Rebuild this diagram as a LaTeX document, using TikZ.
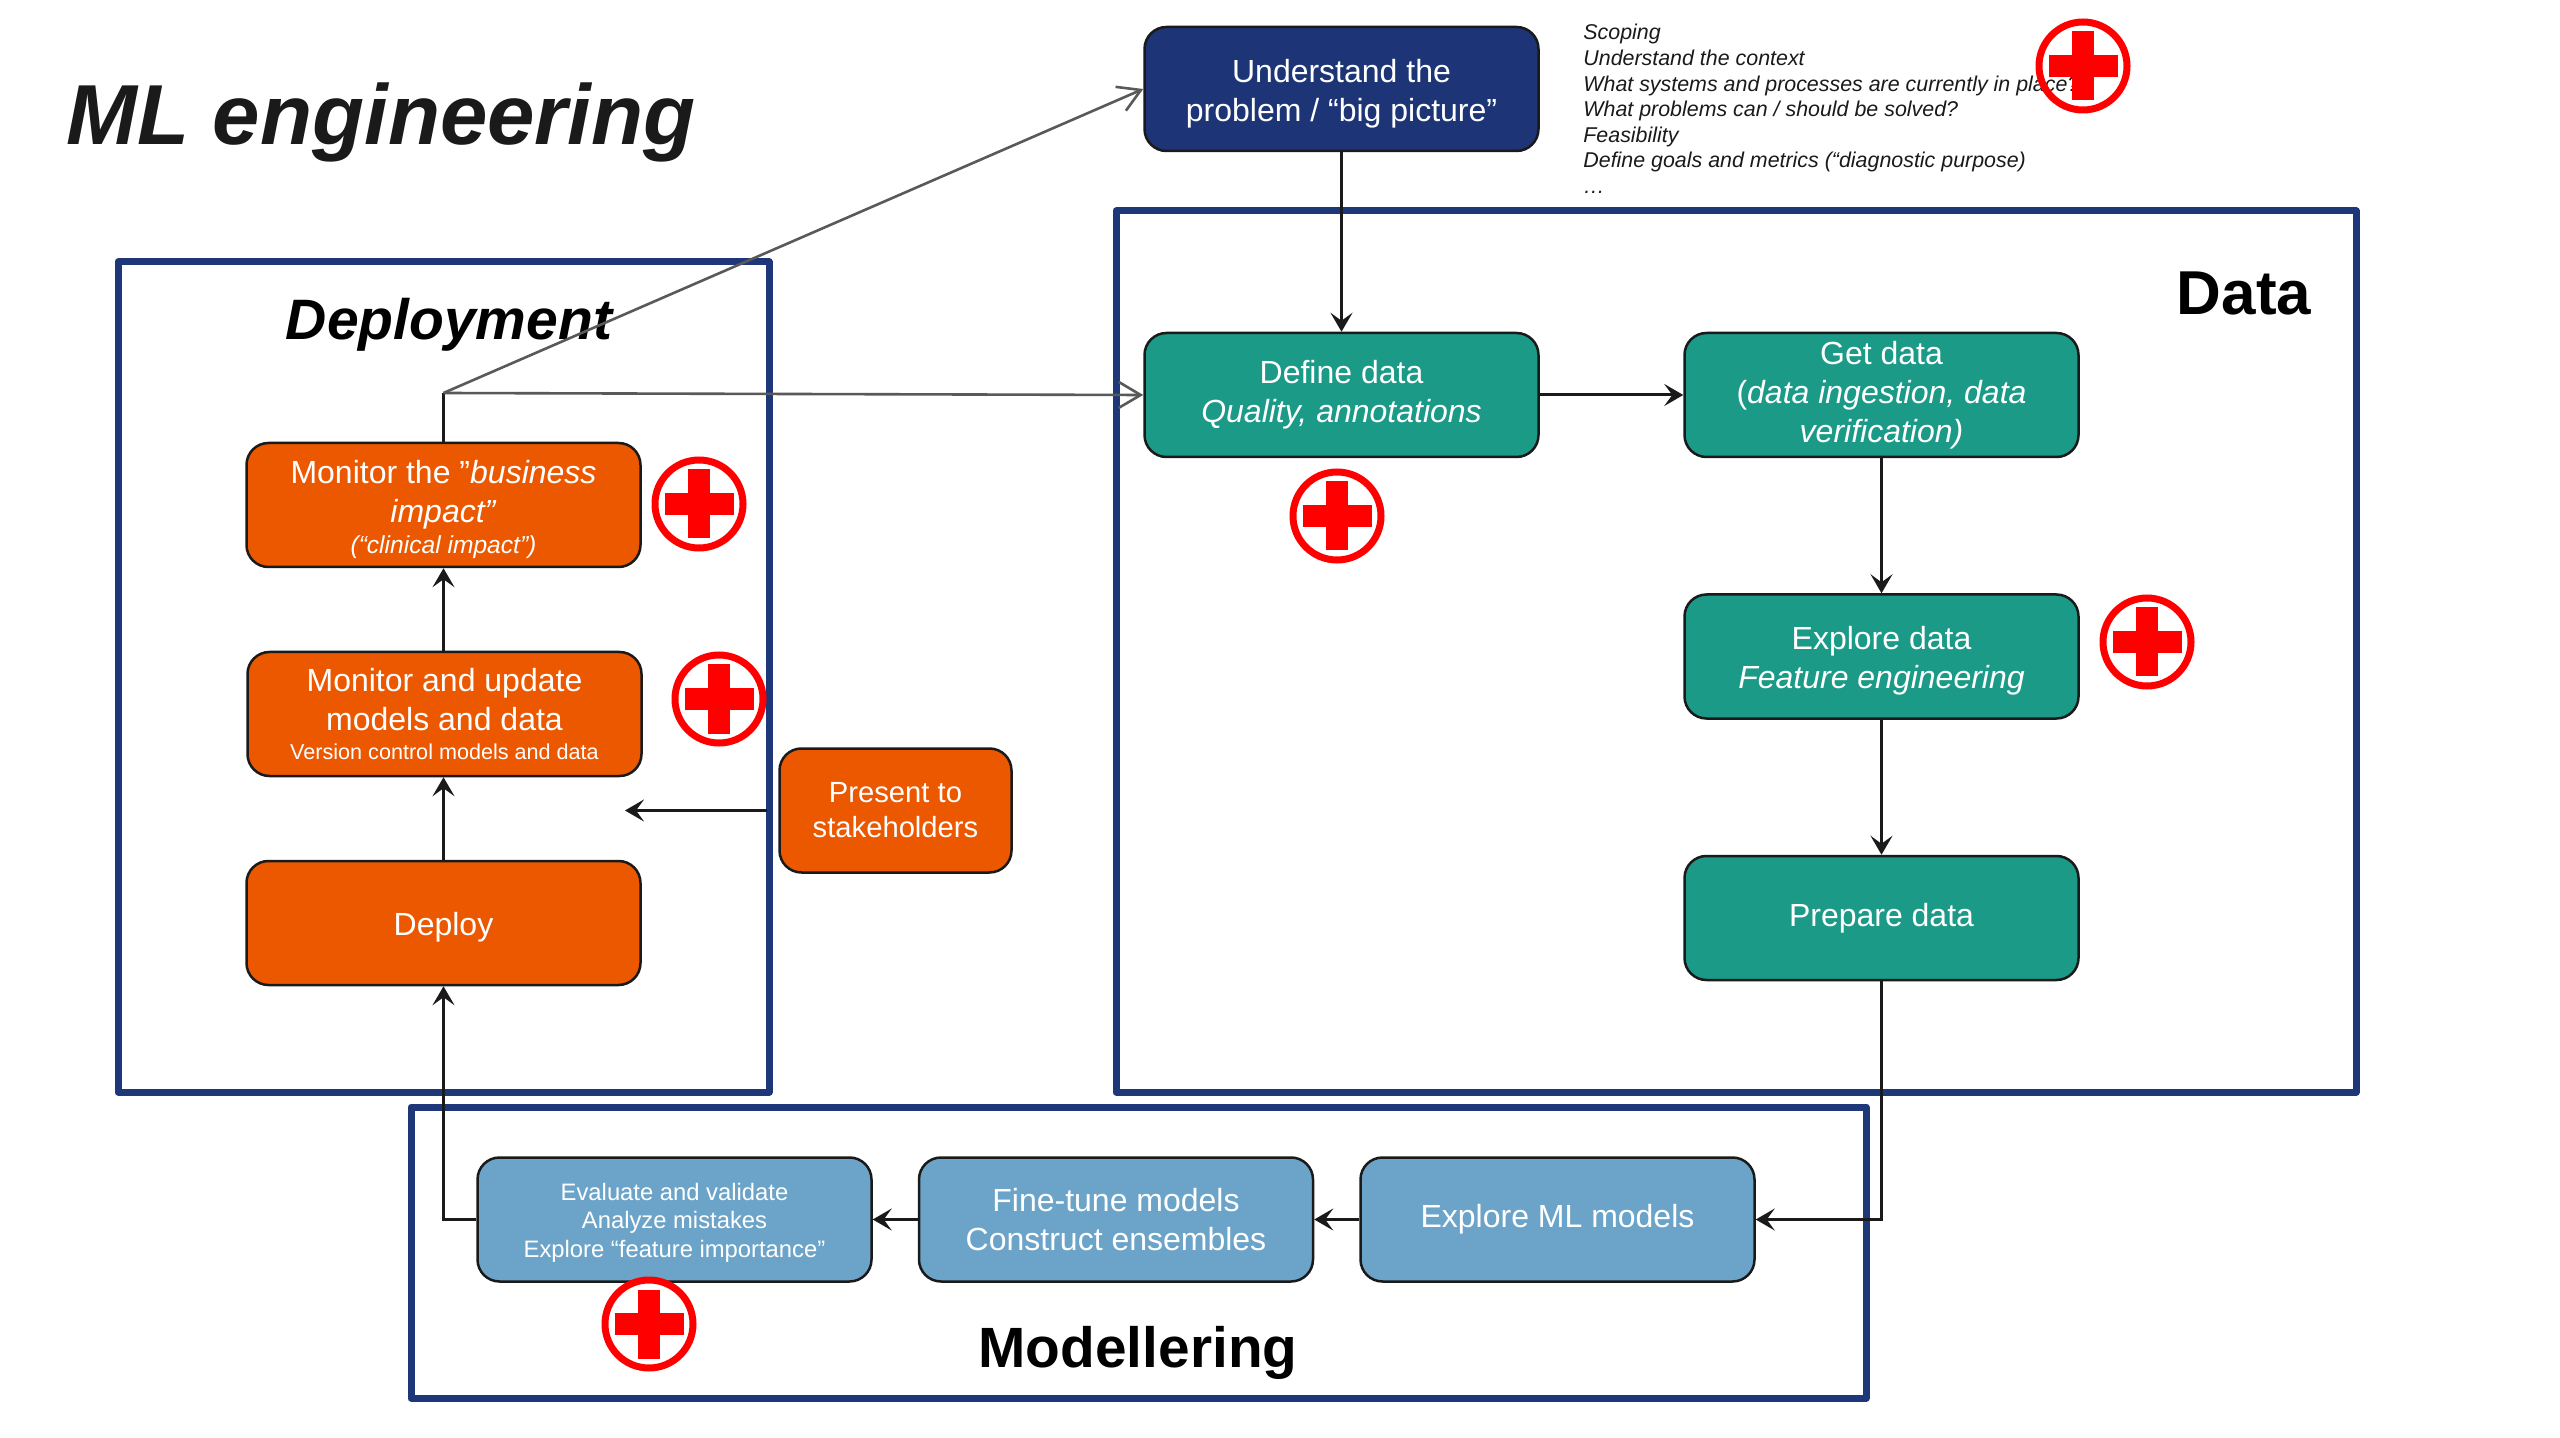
\documentclass[tikz,border=0pt]{standalone}
\usepackage{fontspec}
\setmainfont{Liberation Sans}
\usetikzlibrary{arrows.meta}
\definecolor{framenavy}{HTML}{1E3778}
\definecolor{boxnavy}{HTML}{1D3577}
\definecolor{boxteal}{HTML}{1B9A88}
\definecolor{boxorange}{HTML}{EC5800}
\definecolor{boxblue}{HTML}{6CA4C9}
\definecolor{linedark}{HTML}{1A1A1A}
\definecolor{linegrey}{HTML}{595959}
\newcommand{\bodysize}{\fontsize{16}{19.5}\selectfont}
\newcommand{\topgap}{\rule{0pt}{1em}}
\tikzset{
  stage/.style={draw=linedark, line width=1.25pt, rounded corners=11pt, text=white,
    minimum width=197pt, minimum height=62pt, inner sep=0pt, align=center, font=\bodysize},
  frame/.style={draw=framenavy, line width=3.5pt, line join=round},
  flow/.style={draw=linedark, line width=1.1pt, -{Stealth[length=9.5pt,width=11pt,inset=4pt]}},
  reuse/.style={draw=linegrey, line width=1.3pt, -{Straight Barb[length=11pt,width=13pt]}},
  heading/.style={anchor=base, inner sep=0pt, text=black}
}
\begin{document}
\begin{tikzpicture}[x=0.5pt, y=-0.5pt]
\useasboundingbox (0,0) rectangle (2560,1438);

% frames
\draw[frame] (118,262) rectangle (769,1092);
\draw[frame] (1116,211) rectangle (2356,1092);
\draw[frame] (411,1107) rectangle (1866,1398);

% headings
\node[heading, text=linedark, font={\fontsize{42.6}{50}\selectfont\bfseries\itshape}] (title) at (381,145) {ML engineering};
\node[heading, font={\fontsize{28.5}{34}\selectfont\bfseries\itshape}] (deployhead) at (449,340) {Deployment};
\node[heading, font={\fontsize{31}{36}\selectfont\bfseries}] (datahead) at (2244,315) {Data};
\node[heading, font={\fontsize{28.4}{34}\selectfont\bfseries}] (modelhead) at (1138,1367) {Modellering};

% scoping notes
\node[anchor=north west, inner sep=0pt, align=left, text=linedark, font={\fontsize{10.7}{12.8}\selectfont\itshape}] (scoping) at (1583,24)
  {Scoping\\Understand the context\\What systems and processes are currently in place?\\What problems can / should be solved?\\Feasibility\\Define goals and metrics (“diagnostic purpose)\\…};

% problem and data
\node[stage, fill=boxnavy] (problem) at (1341.5,89) {\topgap Understand the\\problem / “big picture”};
\node[stage, fill=boxteal] (define) at (1341.5,395) {Define data\\\textit{Quality, annotations}};
\node[stage, fill=boxteal] (getdata) at (1881.5,395) {Get data\\(\textit{data ingestion, data}\\\textit{verification)}};
\node[stage, fill=boxteal] (explore) at (1881.5,656.5) {\topgap Explore data\\\textit{Feature engineering}};
\node[stage, fill=boxteal] (prepare) at (1881.5,918) {Prepare data};

% modelling
\node[stage, fill=boxblue] (mlmodels) at (1557.5,1219.5) {Explore ML models};
\node[stage, fill=boxblue] (finetune) at (1116,1219.5) {Fine-tune models\\Construct ensembles};
\node[stage, fill=boxblue, font={\fontsize{11.9}{14.4}\selectfont}] (evaluate) at (674.5,1219.5) {\topgap Evaluate and validate\\Analyze mistakes\\Explore “feature importance”};

% deployment
\node[stage, fill=boxorange] (deploy) at (443.5,923) {\topgap Deploy};
\node[stage, fill=boxorange] (update) at (444.5,714) {Monitor and update\\models and data\\[-5pt]{\fontsize{10.8}{13}\selectfont Version control models and data}};
\node[stage, fill=boxorange] (business) at (443.5,505) {\topgap Monitor the ”\textit{business}\\\textit{impact”}\\[-3.6pt]{\fontsize{12.3}{13}\selectfont\itshape (“clinical impact”)}};
\node[stage, fill=boxorange, minimum width=116pt, font={\fontsize{14.6}{17.5}\selectfont}] (present) at (895.5,810.5) {Present to\\stakeholders};

\coordinate (split) at (443.5,393);
\coordinate (presentend) at (625,810.5);

% connectors
\draw[flow] (problem) -- (define);
\draw[flow, line width=1.5pt] (define) -- (getdata);
\draw[flow] (getdata) -- (explore);
\draw[flow] (explore) -- (prepare);
\draw[flow] (prepare.south) |- (mlmodels.east);
\draw[flow] (mlmodels) -- (finetune);
\draw[flow] (finetune) -- (evaluate);
\draw[flow] (evaluate.west) -| (deploy.south);
\draw[flow] (deploy.north) -- (deploy.north |- update.south);
\draw[flow] (update.north -| business.north) -- (business.south);
\draw[flow, line width=1.5pt, shorten <=5.5pt] (present.west) -- (presentend);
\draw[draw=linedark, line width=1.1pt] (business.north) -- (split);
\draw[reuse] (split) -- (problem.west);
\draw[reuse] (split) -- (define.west);

% red crosses
\foreach \cx/\cy in {699/504, 719/699, 2083/66, 1337/516, 2147/642, 649/1324} {
  \draw[red, line width=3.5pt] (\cx,\cy) circle [radius=44];
  \fill[red] (\cx-34.5,\cy-11) rectangle (\cx+34.5,\cy+11);
  \fill[red] (\cx-11,\cy-34.5) rectangle (\cx+11,\cy+34.5);
}
\end{tikzpicture}
\end{document}
